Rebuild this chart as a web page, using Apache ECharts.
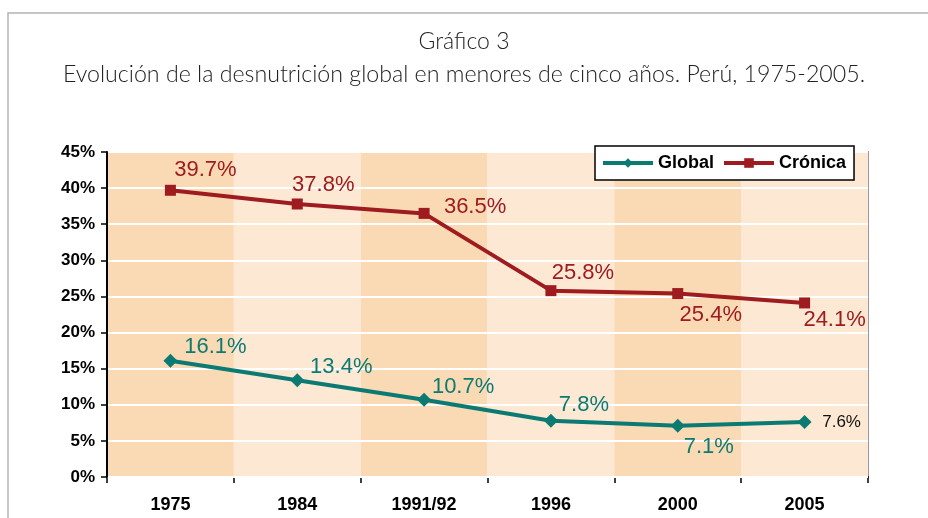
<!DOCTYPE html>
<html>
<head>
<meta charset="utf-8">
<script src="https://cdn.jsdelivr.net/npm/echarts@6/dist/echarts.min.js"></script>
<style>
  html, body { margin: 0; padding: 0; background: #fff; }
  #chart { width: 928px; height: 518px; }
</style>
</head>
<body>
<div id="chart"></div>
<script>
// datos del gráfico
const years = ['1975', '1984', '1991/92', '1996', '2000', '2005'];
const globalVals = [16.1, 13.4, 10.7, 7.8, 7.1, 7.6];
const cronicaVals = [39.7, 37.8, 36.5, 25.8, 25.4, 24.1];
const yTicks = [0, 5, 10, 15, 20, 25, 30, 35, 40, 45];

// desplazamiento de las etiquetas respecto al punto
const globalLabelOffsets = [[45, -14], [44, -13], [39, -13], [33, -16], [31, 21], [37, 0]];
const cronicaLabelOffsets = [[35, -20], [26, -19], [51, -6], [32, -18], [33, 21], [30, 17]];

const TEAL = '#0b7a73';
const RED = '#9e1b20';
const ARIAL = 'Liberation Sans, Arial, sans-serif';

const chart = echarts.init(document.getElementById('chart'), null, { renderer: 'canvas' });

const labelFor = (offs, color, i, last) => ({
  show: true,
  position: 'inside',
  offset: offs[i],
  color: last ? '#111' : color,
  fontFamily: ARIAL,
  fontSize: last ? 17 : 22,
  formatter: (p) => p.value.toFixed(1) + '%',
});

chart.setOption({
  backgroundColor: '#fff',
  animation: false,
  graphic: [
    {
      type: 'rect',
      shape: { x: 8, y: 13, width: 1000, height: 1000 },
      style: { fill: 'none', stroke: '#b4b4b4', lineWidth: 1.5 },
      silent: true,
    },
  ],
  title: [
    {
      text: 'Gráfico 3',
      left: 'center',
      top: 25,
      textStyle: { fontFamily: 'Lato', fontWeight: 300, fontSize: 23, color: '#222' },
    },
    {
      text: 'Evolución de la desnutrición global en menores de cinco años. Perú, 1975-2005.',
      left: 'center',
      top: 58,
      textStyle: { fontFamily: 'Lato', fontWeight: 300, fontSize: 23.2, color: '#222' },
    },
  ],
  legend: {
    left: 595,
    top: 146,
    itemWidth: 50,
    itemHeight: 12,
    itemGap: 8,
    padding: [8, 8, 8, 6],
    backgroundColor: '#fff',
    borderColor: '#000',
    borderWidth: 1.5,
    textStyle: { fontFamily: ARIAL, fontWeight: 'bold', fontSize: 18, color: '#000' },
    data: [
      { name: 'Global', lineStyle: { width: 4 } },
      { name: 'Crónica', lineStyle: { width: 4 } },
    ],
  },
  grid: {
    left: 107,
    right: 60,
    top: 152,
    bottom: 41,
    show: true,
    borderColor: '#999',
    borderWidth: 2,
  },
  xAxis: {
    type: 'category',
    data: years,
    boundaryGap: true,
    axisLine: { lineStyle: { color: '#000', width: 2 } },
    axisTick: { show: true, length: 6, inside: false, lineStyle: { color: '#000', width: 1.5 } },
    axisLabel: { color: '#000', fontFamily: ARIAL, fontWeight: 'bold', fontSize: 18, margin: 19 },
    splitLine: { show: false },
    splitArea: { show: true, interval: 0, areaStyle: { color: ['#f9dab4', '#fce8d3'] } },
  },
  yAxis: {
    type: 'value',
    min: yTicks[0],
    max: yTicks[yTicks.length - 1],
    interval: 5,
    axisLine: { show: true, lineStyle: { color: '#000', width: 2 } },
    axisTick: { show: true, length: 6, lineStyle: { color: '#000', width: 1.5 } },
    axisLabel: {
      color: '#000',
      fontFamily: ARIAL,
      fontWeight: 'bold',
      fontSize: 17,
      margin: 12,
      formatter: '{value}%',
    },
    splitLine: { show: true, lineStyle: { color: '#fff', width: 2 } },
    z: 3,
  },
  series: [
    {
      name: 'Global',
      type: 'line',
      symbol: 'diamond',
      symbolSize: 14,
      lineStyle: { color: TEAL, width: 4 },
      itemStyle: { color: TEAL },
      data: globalVals.map((v, i) => ({
        value: v,
        label: labelFor(globalLabelOffsets, TEAL, i, i === globalVals.length - 1),
      })),
      z: 5,
    },
    {
      name: 'Crónica',
      type: 'line',
      symbol: 'rect',
      symbolSize: 11,
      lineStyle: { color: RED, width: 4 },
      itemStyle: { color: RED },
      data: cronicaVals.map((v, i) => ({
        value: v,
        label: labelFor(cronicaLabelOffsets, RED, i, false),
      })),
      z: 5,
    },
  ],
});
</script>
</body>
</html>
